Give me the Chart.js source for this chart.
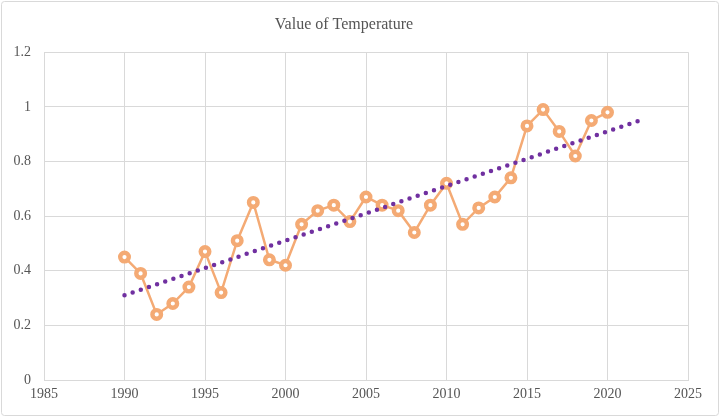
<!DOCTYPE html>
<html>
<head>
<meta charset="utf-8">
<script src="https://cdn.jsdelivr.net/npm/chart.js@4/dist/chart.umd.min.js"></script>
<style>
html,body{margin:0;padding:0;background:#fff;}
canvas{display:block;}
</style>
</head>
<body>
<canvas id="c" width="721" height="419"></canvas>
<script>
const years = [1990,1991,1992,1993,1994,1995,1996,1997,1998,1999,2000,2001,2002,2003,2004,2005,2006,2007,2008,2009,2010,2011,2012,2013,2014,2015,2016,2017,2018,2019,2020];
const temps = [0.45,0.39,0.24,0.28,0.34,0.47,0.32,0.51,0.65,0.44,0.42,0.57,0.62,0.64,0.58,0.67,0.64,0.62,0.54,0.64,0.72,0.57,0.63,0.67,0.74,0.93,0.99,0.91,0.82,0.95,0.98];
const trendYears = [1990, 2022];
const trendValues = [0.31, 0.95];
const xTicks = [1985,1990,1995,2000,2005,2010,2015,2020,2025];
const yTicks = [0,0.2,0.4,0.6,0.8,1,1.2];

const FONT = "'Liberation Serif', 'Times New Roman', serif";
const TXT = '#555555';

const frame = {
  id: 'frame',
  beforeDraw(chart) {
    const ctx = chart.ctx;
    ctx.save();
    ctx.fillStyle = '#fff';
    ctx.fillRect(0, 0, chart.width, chart.height);
    ctx.strokeStyle = '#D9D9D9';
    ctx.lineWidth = 1;
    ctx.beginPath();
    ctx.roundRect(1.5, 1.5, 717, 414, 3);
    ctx.stroke();
    ctx.restore();
  }
};

new Chart(document.getElementById('c'), {
  type: 'line',
  data: {
    datasets: [
      {
        label: 'Trend',
        data: trendYears.map((x, i) => ({x, y: trendValues[i]})),
        borderColor: '#7030A0',
        borderWidth: 4.5,
        borderDash: [0, 8.6],
        borderCapStyle: 'round',
        pointRadius: 0,
        fill: false,
        order: 0
      },
      {
        label: 'Value of Temperature',
        data: years.map((x, i) => ({x, y: temps[i]})),
        borderColor: '#F4AA74',
        borderWidth: 2.5,
        pointRadius: 4.3,
        pointBorderWidth: 4.4,
        pointBackgroundColor: '#ffffff',
        pointBorderColor: '#F4AA74',
        tension: 0,
        fill: false,
        order: 1
      }
    ]
  },
  options: {
    responsive: false,
    animation: false,
    devicePixelRatio: 1,
    layout: { padding: { left: 0, right: 33, top: 0, bottom: 9 } },
    plugins: {
      legend: { display: false },
      tooltip: { enabled: false },
      title: {
        display: true,
        text: 'Value of Temperature',
        color: TXT,
        font: { family: FONT, size: 16, weight: 'normal' },
        padding: { top: 15, bottom: 18 }
      }
    },
    scales: {
      x: {
        type: 'linear',
        min: 1985,
        max: 2025,
        afterBuildTicks(scale) { scale.ticks = xTicks.map(v => ({value: v})); },
        afterFit(scale) { scale.height = 30; },
        ticks: {
          color: TXT,
          font: { family: FONT, size: 14 },
          padding: 6,
          maxRotation: 0,
          callback: v => String(v)
        },
        grid: { color: '#D9D9D9', drawTicks: false },
        border: { color: '#D9D9D9' }
      },
      y: {
        min: 0,
        max: 1.2,
        afterBuildTicks(scale) { scale.ticks = yTicks.map(v => ({value: v})); },
        afterFit(scale) { scale.width = 44; },
        ticks: {
          color: TXT,
          font: { family: FONT, size: 14 },
          padding: 13,
          callback: v => String(Math.round(v * 10) / 10)
        },
        grid: { color: '#D9D9D9', drawTicks: false },
        border: { display: false }
      }
    }
  },
  plugins: [frame]
});
</script>
</body>
</html>
